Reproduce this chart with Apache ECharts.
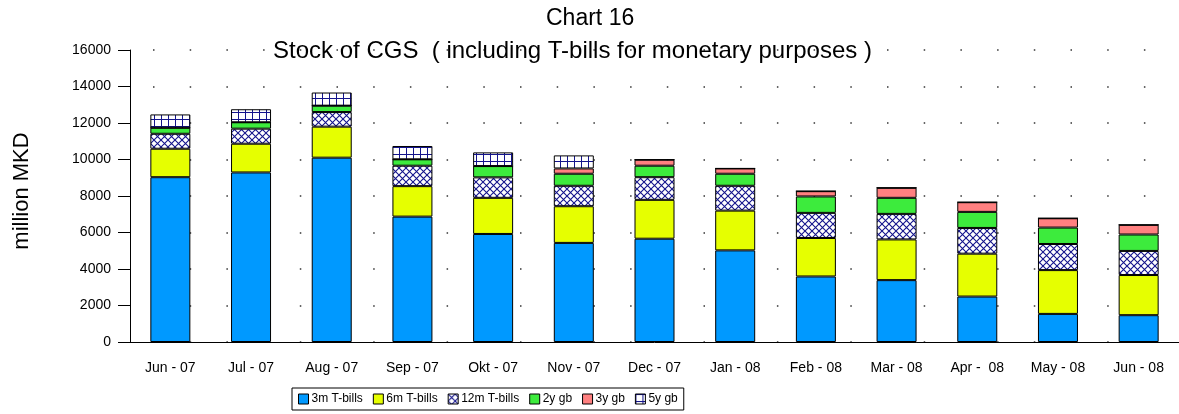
<!DOCTYPE html>
<html>
<head>
<meta charset="utf-8">
<script src="https://cdn.jsdelivr.net/npm/echarts@6/dist/echarts.min.js"></script>
<style>
  html, body { margin: 0; padding: 0; background: #fff; }
  #chart { width: 1179px; height: 414px; }
</style>
</head>
<body>
<div id="chart"></div>
<script>
var months = ['Jun - 07', 'Jul - 07', 'Aug - 07', 'Sep - 07', 'Okt - 07', 'Nov - 07', 'Dec - 07',
  'Jan - 08', 'Feb - 08', 'Mar - 08', 'Apr -  08', 'May - 08', 'Jun - 08'];
var tbills3m  = [9030, 9290, 10100, 6870, 5920, 5430, 5660, 5020, 3590, 3390, 2490, 1540, 1470];
var tbills6m  = [1560, 1575, 1700, 1670, 1980, 2010, 2130, 2180, 2110, 2230, 2350, 2400, 2200];
var tbills12m = [820, 825, 800, 1120, 1120, 1120, 1240, 1360, 1375, 1400, 1410, 1430, 1320];
var gb2y      = [330, 350, 350, 350, 620, 660, 630, 660, 900, 880, 880, 900, 900];
var gb3y      = [0, 0, 0, 0, 0, 290, 330, 290, 290, 550, 530, 510, 530];
var gb5y      = [730, 715, 720, 730, 750, 715, 0, 0, 0, 0, 0, 0, 0];
var yTicks    = [0, 2000, 4000, 6000, 8000, 10000, 12000, 14000, 16000];

// hatch patterns for 12m T-bills and 5y gb
function makePattern(kind) {
  var c = document.createElement('canvas');
  c.width = 7; c.height = 7;
  var ctx = c.getContext('2d');
  ctx.fillStyle = '#fff';
  ctx.fillRect(0, 0, 7, 7);
  ctx.strokeStyle = '#14148c';
  ctx.lineWidth = kind === 'cross' ? 1.1 : 1;
  ctx.beginPath();
  if (kind === 'cross') {
    ctx.moveTo(-1, -1); ctx.lineTo(8, 8);
    ctx.moveTo(8, -1); ctx.lineTo(-1, 8);
  } else {
    ctx.moveTo(0.5, 0); ctx.lineTo(0.5, 7);
    ctx.moveTo(0, 0.5); ctx.lineTo(7, 0.5);
  }
  ctx.stroke();
  return { image: c, repeat: 'repeat' };
}

var font = 'Liberation Sans, Arial, sans-serif';

function bar(name, data, color) {
  return {
    name: name,
    type: 'bar',
    stack: 'total',
    barWidth: 40,
    data: data,
    itemStyle: { color: color, borderColor: '#000', borderWidth: 1 }
  };
}

var chart = echarts.init(document.getElementById('chart'), null, { renderer: 'canvas' });
chart.setOption({
  animation: false,
  title: [
    { text: 'Chart 16', left: 541, top: 2,
      textStyle: { fontFamily: font, fontSize: 23, fontWeight: 'normal', color: '#000' } },
    { text: 'Stock of CGS  ( including T-bills for monetary purposes )', left: 268, top: 34,
      textStyle: { fontFamily: font, fontSize: 24, fontWeight: 'normal', color: '#000' } }
  ],
  legend: {
    left: 292, top: 388,
    padding: [5, 6],
    borderColor: '#000', borderWidth: 1,
    itemWidth: 10, itemHeight: 10, itemGap: 10,
    icon: 'rect',
    itemStyle: { borderColor: '#000', borderWidth: 1 },
    textStyle: { fontFamily: font, fontSize: 12, color: '#000', padding: [0, 0, 0, -2] },
    data: ['3m T-bills', '6m T-bills', '12m T-bills', '2y gb', '3y gb', '5y gb']
  },
  grid: { left: 130, right: 0, top: 50, bottom: 72 },
  xAxis: {
    type: 'category',
    data: months,
    axisLine: { lineStyle: { color: '#000' } },
    axisTick: { alignWithLabel: true, length: 8, lineStyle: { color: '#000' } },
    axisLabel: { fontFamily: font, fontSize: 14, color: '#000', margin: 19 }
  },
  yAxis: {
    type: 'value',
    min: yTicks[0], max: yTicks[yTicks.length - 1], interval: 2000,
    name: 'million MKD',
    nameLocation: 'middle',
    nameGap: 97,
    nameRotate: 90,
    nameTextStyle: { fontFamily: font, fontSize: 22, color: '#000', padding: [0, 0, 0, 10] },
    axisLine: { show: true, lineStyle: { color: '#000' } },
    axisTick: { show: true, length: 12, lineStyle: { color: '#000' } },
    axisLabel: { fontFamily: font, fontSize: 14, color: '#000', margin: 19,
      formatter: function (v) { return String(v); } },
    splitLine: { show: true, lineStyle: { color: '#333', width: 1.5, type: [1.5, 35.2], dashOffset: 13.7 } }
  },
  series: [
    bar('3m T-bills', tbills3m, '#0099ff'),
    bar('6m T-bills', tbills6m, '#e6ff00'),
    bar('12m T-bills', tbills12m, makePattern('cross')),
    bar('2y gb', gb2y, '#3deb3d'),
    bar('3y gb', gb3y, '#ff8080'),
    bar('5y gb', gb5y, makePattern('grid'))
  ]
});
</script>
</body>
</html>
